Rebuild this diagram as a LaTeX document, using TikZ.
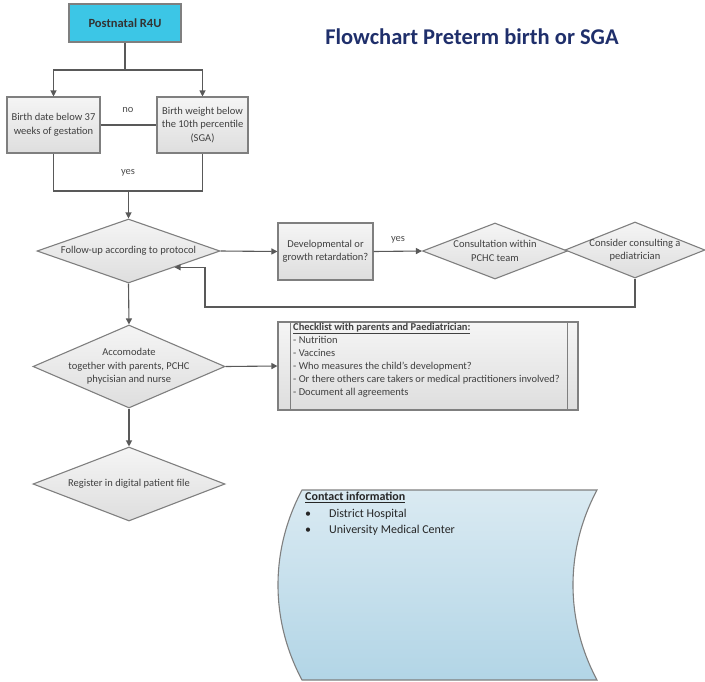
\documentclass[tikz,border=0pt]{standalone}
\usepackage{fontspec}
\setmainfont{Carlito}
\usetikzlibrary{shapes.geometric,arrows.meta}
\definecolor{edge}{HTML}{7F7F7F}
\definecolor{wire}{HTML}{595959}
\definecolor{startfill}{HTML}{3CC6E6}
\definecolor{titleblue}{HTML}{1F2F6B}
\definecolor{skytop}{HTML}{DAEAF2}
\definecolor{skybot}{HTML}{B2D5E6}
\tikzset{
  boxbase/.style={draw=edge, line width=1.1pt, top color=white!96!black, bottom color=white!87!black,
    font=\fontsize{10.5}{13.5}\selectfont, text=black!75, align=center, inner sep=2pt},
  procbox/.style={boxbase, rectangle},
  decision/.style={boxbase, diamond, inner sep=0pt},
  startbox/.style={rectangle, draw=edge, line width=1.1pt, fill=startfill,
    font=\bfseries\fontsize{12.5}{15}\selectfont, text=black!80},
  flow/.style={draw=wire, line width=1.1pt},
  arrow/.style={flow, -{Triangle[length=6pt,width=6pt]}},
  note/.style={font=\fontsize{10.5}{13}\selectfont, text=black!70},
  dtext/.style={font=\fontsize{10.5}{13.5}\selectfont, text=black!75, align=center}
}
\begin{document}
\begin{tikzpicture}[x=1pt,y=-1pt]
\useasboundingbox (0,0) rectangle (705,681);

% title
\node[font=\bfseries\fontsize{22.5}{27}\selectfont, text=titleblue] (title) at (472,37) {Flowchart Preterm birth or SGA};

% start and first two checks
\node[startbox, minimum width=112pt, minimum height=38pt] (post) at (125,23) {Postnatal R4U};
\node[procbox, minimum width=93pt, minimum height=56pt] (b1) at (53.5,125) {Birth date below 37\\weeks of gestation};
\node[procbox, minimum width=91pt, minimum height=56pt] (b2) at (202.5,125) {Birth weight below\\the 10th percentile\\(SGA)};

% decisions and process boxes
\node[decision, minimum width=183pt, minimum height=64pt,
  label={[dtext]center:Follow-up according to protocol}] (f) at (128.5,251) {};
\node[procbox, minimum width=95pt, minimum height=57pt] (dev) at (325.5,251.5) {Developmental or\\growth retardation?};
\node[decision, minimum width=145pt, minimum height=56pt,
  label={[dtext]center:Consultation within\\PCHC team}] (c2) at (495,251) {};
\node[decision, minimum width=140pt, minimum height=56pt,
  label={[dtext]center:Consider consulting a\\pediatrician}] (c3) at (635,250) {};
\node[decision, minimum width=192pt, minimum height=83pt,
  label={[dtext]center:Accomodate\\together with parents, PCHC\\phycisian and nurse}] (acc) at (129,366.5) {};
\node[decision, minimum width=192pt, minimum height=74pt,
  label={[dtext]center:Register in digital patient file}] (reg) at (129,484) {};

% checklist (predefined process)
\node[procbox, minimum width=300pt, minimum height=88pt] (chk) at (428,366) {};
\draw[draw=edge, line width=1.1pt] ([xshift=13pt]chk.north west) -- ([xshift=13pt]chk.south west);
\draw[draw=edge, line width=1.1pt] ([xshift=-11pt]chk.north east) -- ([xshift=-11pt]chk.south east);
\node[anchor=north west, align=left, inner sep=0pt, font=\fontsize{10.5}{13}\selectfont, text=black!75]
  (chktext) at (293,323) {\textbf{\underline{Checklist with parents and Paediatrician:}}\\
  - Nutrition\\- Vaccines\\- Who measures the child's development?\\
  - Or there others care takers or medical practitioners involved?\\- Document all agreements};

% contact information (stored data shape)
\path[draw=edge, line width=1.1pt, top color=skytop, bottom color=skybot]
  (302,490) -- (597,490) .. controls (565,550) and (565,620) .. (597,680)
  -- (302,680) .. controls (270,620) and (270,550) .. (302,490) -- cycle;
\node[anchor=north west, align=left, inner sep=0pt, font=\fontsize{12}{16.5}\selectfont, text=black!85]
  (contact) at (305,492) {\textbf{\underline{Contact information}}\\
  \makebox[24pt][l]{\textbullet}District Hospital\\
  \makebox[24pt][l]{\textbullet}University Medical Center};

% connectors
\coordinate (split) at (post.south |- 0,70);
\coordinate (join) at (f.north |- 0,191);
\coordinate (back) at (205,307);
\draw[flow] (post.south) -- (split);
\draw[arrow] (split) -| (b1.north);
\draw[arrow] (split) -| (b2.north);
\draw[flow] (b1.east) -- (b2.west);
\draw[flow] (b1.south) |- (join) -| (b2.south);
\draw[arrow] (join) -- (f.north);
\draw[arrow] (f.east) -- (dev.west);
\draw[arrow] (dev.east) -- (c2.west);
\draw[arrow] (c3.south) |- (back) |- (f.south east);
\draw[arrow] (f.south) -- (acc.north);
\draw[arrow] (acc.east) -- (chk.west);
\draw[arrow] (acc.south) -- (reg.north);

% branch labels
\node[note] (lno) at (128,110) {no};
\node[note] (lyes1) at (128,173) {yes};
\node[note] (lyes2) at (398,240) {yes};
\end{tikzpicture}
\end{document}
